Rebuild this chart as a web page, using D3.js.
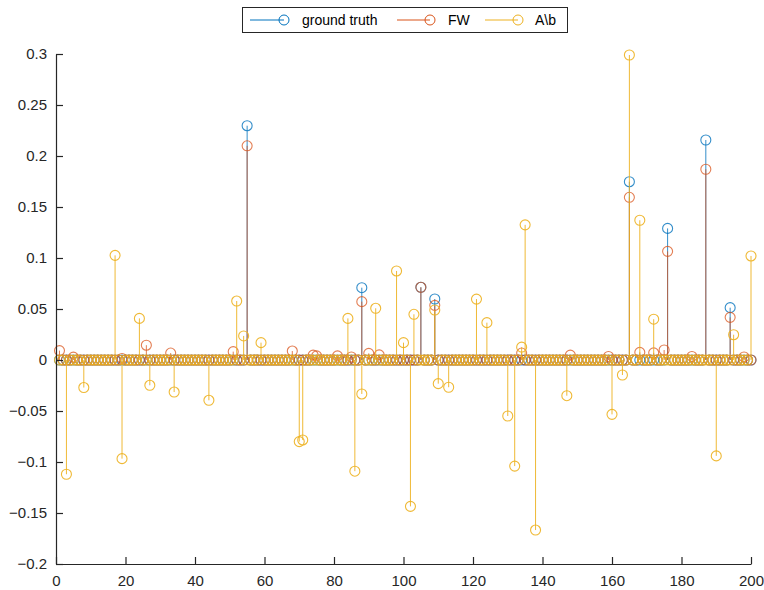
<!DOCTYPE html>
<html>
<head>
<meta charset="utf-8">
<script src="https://cdn.jsdelivr.net/npm/d3@7"></script>
<style>
  html, body { margin: 0; padding: 0; background: #fff; }
  svg { display: block; font-family: "Liberation Sans", Arial, sans-serif; }
</style>
</head>
<body>
<svg id="chart" width="764" height="590"></svg>
<script>
// ---- data ----
const N = 200;
const seriesNames = ["ground truth", "FW", "A\\b"];
const seriesColors = ["#0072BD", "#D95319", "#EDB120"];
const seriesOpacity = [0.8, 0.75, 0.9];

// ground truth (sparse: index, value)
const gtIndex = [55, 88, 105, 109, 165, 176, 187, 194];
const gtValue = [0.2297, 0.0709, 0.0713, 0.0598, 0.1748, 0.1290, 0.2157, 0.0513];

// FW estimate (sparse)
const fwIndex = [1, 5, 19, 26, 33, 51, 55, 68, 74, 75, 81, 85, 88, 90, 93, 105, 109, 134, 148, 159, 165, 168, 172, 175, 176, 183, 187, 194, 198];
const fwValue = [0.0092, 0.0028, 0.0015, 0.0145, 0.0068, 0.0082, 0.2100, 0.0088, 0.0048, 0.0040, 0.0040, 0.0030, 0.0572, 0.0065, 0.0050, 0.0713, 0.0536, 0.0068, 0.0048, 0.0035, 0.1595, 0.0075, 0.0070, 0.0098, 0.1065, 0.0035, 0.1870, 0.0418, 0.0030];

// A\b solution (sparse)
const abIndex = [3, 8, 17, 19, 24, 27, 34, 44, 52, 54, 59, 70, 71, 84, 86, 88, 92, 98, 100, 102, 103, 109, 110, 113, 121, 124, 130, 132, 134, 135, 138, 147, 160, 163, 165, 168, 172, 190, 195, 200];
const abValue = [-0.1120, -0.0270, 0.1026, -0.0967, 0.0408, -0.0248, -0.0314, -0.0395, 0.0578, 0.0236, 0.0170, -0.0800, -0.0784, 0.0408, -0.1090, -0.0333, 0.0507, 0.0873, 0.0170, -0.1435, 0.0448, 0.0490, -0.0232, -0.0267, 0.0597, 0.0366, -0.0549, -0.1040, 0.0126, 0.1325, -0.1667, -0.0350, -0.0533, -0.0147, 0.2990, 0.1370, 0.0400, -0.0940, 0.0248, 0.1020];

const xTicks = [0, 20, 40, 60, 80, 100, 120, 140, 160, 180, 200];
const yTicks = [-0.2, -0.15, -0.1, -0.05, 0, 0.05, 0.1, 0.15, 0.2, 0.25, 0.3];

function expand(idx, val) {
  const arr = d3.range(1, N + 1).map(i => ({ i: i, v: 0 }));
  idx.forEach((k, j) => { arr[k - 1].v = val[j]; });
  return arr;
}
const series = [expand(gtIndex, gtValue), expand(fwIndex, fwValue), expand(abIndex, abValue)];

// ---- layout ----
const svg = d3.select("#chart");
const mLeft = 56, mRight = 751, mTop = 54, mBottom = 564;
const x = d3.scaleLinear().domain([0, 200]).range([mLeft, mRight]);
const y = d3.scaleLinear().domain([-0.2, 0.3]).range([mBottom, mTop]);
const axisColor = "#262626";

// ---- stems & markers ----
series.forEach((data, s) => {
  const g = svg.append("g");
  g.selectAll("line").data(data).enter().append("line")
    .attr("x1", d => x(d.i)).attr("x2", d => x(d.i))
    .attr("y1", y(0)).attr("y2", d => y(d.v))
    .attr("stroke", seriesColors[s]).attr("stroke-width", 1)
    .attr("stroke-opacity", seriesOpacity[s]);
  g.selectAll("circle").data(data).enter().append("circle")
    .attr("cx", d => x(d.i)).attr("cy", d => y(d.v)).attr("r", 5)
    .attr("fill", "none").attr("stroke", seriesColors[s]).attr("stroke-width", 1.1)
    .attr("stroke-opacity", seriesOpacity[s]);
});

// ---- axes ----
const xAxis = d3.axisBottom(x).tickValues(xTicks).tickSizeInner(-7).tickSizeOuter(0).tickPadding(11);
const gx = svg.append("g").attr("transform", `translate(0,${mBottom})`).call(xAxis);
const yAxis = d3.axisLeft(y).tickValues(yTicks).tickSizeInner(-7).tickSizeOuter(0).tickPadding(9)
  .tickFormat(d => d3.format("")(+d.toFixed(2)));
const gy = svg.append("g").attr("transform", `translate(${mLeft},0)`).call(yAxis);
[gx, gy].forEach(g => {
  g.selectAll("path").attr("stroke", axisColor).attr("stroke-width", 1.2);
  g.selectAll("line").attr("stroke", axisColor).attr("stroke-width", 1.2);
  g.selectAll("text").attr("fill", axisColor).attr("font-size", 15)
    .attr("font-family", "'Liberation Sans', Arial, sans-serif");
});

// ---- legend ----
const lg = svg.append("g");
lg.append("rect").attr("x", 242.5).attr("y", 7.5).attr("width", 325).attr("height", 25)
  .attr("fill", "#fff").attr("stroke", axisColor).attr("stroke-width", 1);
const legendItems = [
  { x0: 250, x1: 284, tx: 302 },
  { x0: 397, x1: 430, tx: 448 },
  { x0: 485, x1: 518, tx: 535 }
];
legendItems.forEach((it, s) => {
  lg.append("line").attr("x1", it.x0).attr("x2", it.x1).attr("y1", 20).attr("y2", 20)
    .attr("stroke", seriesColors[s]).attr("stroke-width", 1);
  lg.append("circle").attr("cx", it.x1).attr("cy", 20).attr("r", 5)
    .attr("fill", "none").attr("stroke", seriesColors[s]).attr("stroke-width", 1);
  lg.append("text").attr("x", it.tx).attr("y", 25).text(seriesNames[s])
    .attr("font-size", 14).attr("fill", "#000");
});
</script>
</body>
</html>
